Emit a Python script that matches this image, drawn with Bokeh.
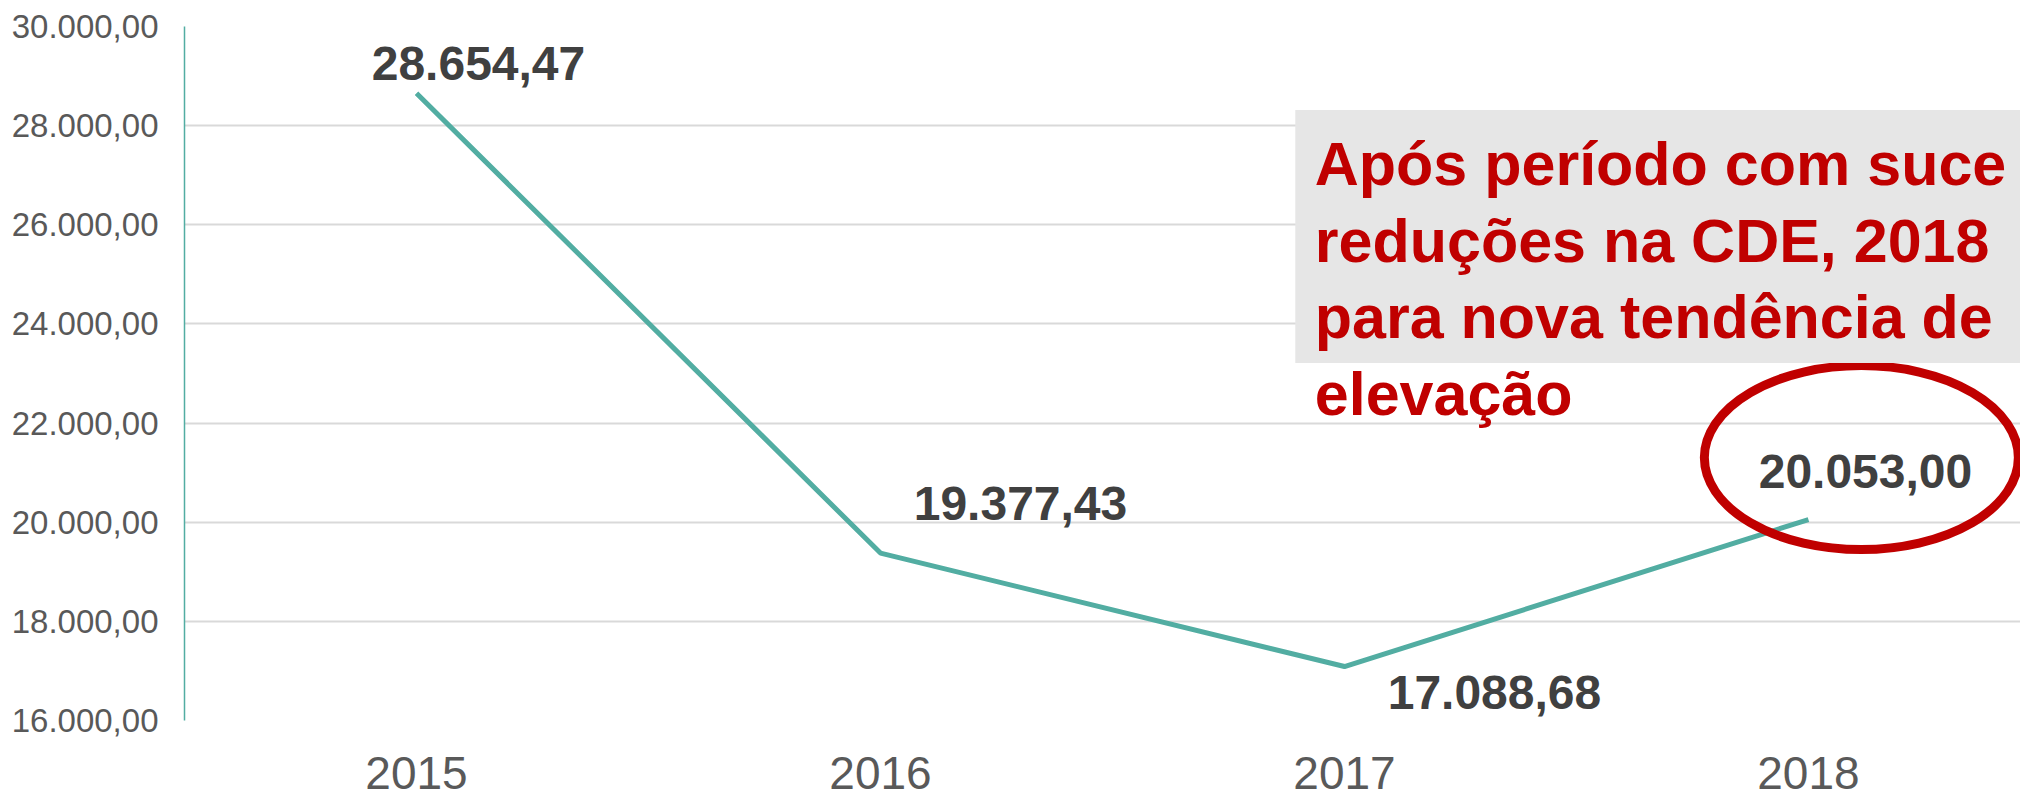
from bokeh.plotting import figure
from bokeh.models import (ColumnDataSource, Range1d, FixedTicker, Label, BoxAnnotation)
from bokeh.core.properties import value
from bokeh.embed import file_html
from bokeh.resources import INLINE

# ---- data ----
years = ["2015", "2016", "2017", "2018"]
cde_values = [28654.47, 19377.43, 17088.68, 20053.00]
value_labels = ["28.654,47", "19.377,43", "17.088,68", "20.053,00"]
y_ticks = [16000, 18000, 20000, 22000, 24000, 26000, 28000, 30000]
y_tick_labels = ["16.000,00", "18.000,00", "20.000,00", "22.000,00",
                 "24.000,00", "26.000,00", "28.000,00", "30.000,00"]
note_lines = ["Após período com suce", "reduções na CDE, 2018",
              "para nova tendência de", "elevação"]

# ---- layout / style constants ----
label_dx = [62, 140, 150, 57]      # screen px offsets of the value labels
label_dy = [-30, -50, 26, -48]
note_baselines = [27236, 25682, 24149, 22596]
FONT = "Liberation Sans"
TEAL = "#52ADA2"
RED = "#C00000"

xs = list(range(len(years)))
src = ColumnDataSource(dict(x=xs, y=cde_values, lab=value_labels,
                            dx=label_dx, dy=label_dy))

p = figure(width=2020, height=798, output_backend="svg", toolbar_location=None,
           x_range=Range1d(-0.5, 3.457), y_range=Range1d(16000, 30000),
           min_border_left=184, min_border_right=0, min_border_top=26,
           min_border_bottom=78)
p.outline_line_color = None
p.background_fill_color = "white"
p.border_fill_color = "white"

# axes
p.xaxis.ticker = FixedTicker(ticks=xs)
p.xaxis.major_label_overrides = {i: y for i, y in zip(xs, years)}
p.xaxis.axis_line_color = None
p.xaxis.major_tick_line_color = None
p.xaxis.minor_tick_line_color = None
p.xaxis.major_label_text_font = FONT
p.xaxis.major_label_text_font_size = "46px"
p.xaxis.major_label_text_color = "#595959"
p.xaxis.major_label_standoff = 30

p.yaxis.ticker = FixedTicker(ticks=y_ticks)
p.yaxis.major_label_overrides = {t: l for t, l in zip(y_ticks, y_tick_labels)}
p.yaxis.axis_line_color = TEAL
p.yaxis.axis_line_width = 1.5
p.yaxis.major_tick_line_color = None
p.yaxis.minor_tick_line_color = None
p.yaxis.major_label_text_font = FONT
p.yaxis.major_label_text_font_size = "33px"
p.yaxis.major_label_text_color = "#595959"
p.yaxis.major_label_standoff = 20

p.xgrid.grid_line_color = None
p.ygrid.grid_line_color = "#D9D9D9"
p.ygrid.grid_line_width = 2

# data line
p.line("x", "y", source=src, line_color=TEAL, line_width=5)

# value labels
p.text("x", "y", text="lab", source=src, x_offset="dx", y_offset="dy",
       text_font=value(FONT), text_font_style="bold", text_font_size="48px",
       text_color="#404040", text_align="center", text_baseline="alphabetic")

# highlight ellipse around the 2018 value
p.ellipse(x=[xs[-1] + 0.114], y=[cde_values[-1] + 1250], width=314, height=184,
          width_units="screen", height_units="screen",
          fill_color=None, line_color=RED, line_width=9)

# grey note box
p.add_layout(BoxAnnotation(left=1.894, right=3.457, top=28315, bottom=23212,
                           fill_color="#E6E6E6", fill_alpha=1.0,
                           line_color=None))

# red note text
for line, yb in zip(note_lines, note_baselines):
    p.add_layout(Label(x=1.936, y=yb, text=line, text_font=FONT,
                       text_font_style="bold", text_font_size="61px",
                       text_color=RED, text_baseline="alphabetic",
                       text_align="left"))

open("out.html", "w").write(file_html(p, INLINE))
